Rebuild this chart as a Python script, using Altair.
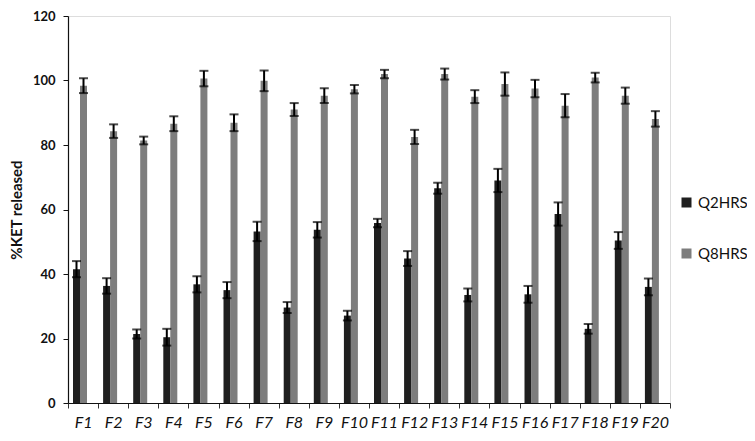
import altair as alt
import pandas as pd

formulations = ["F1", "F2", "F3", "F4", "F5", "F6", "F7", "F8", "F9", "F10",
                "F11", "F12", "F13", "F14", "F15", "F16", "F17", "F18", "F19", "F20"]
series = ["Q2HRS", "Q8HRS"]
q2 = [41.5, 36.3, 21.4, 20.4, 36.8, 35.0, 53.2, 29.6, 53.7, 27.1,
      55.8, 44.8, 66.6, 33.5, 69.0, 33.7, 58.6, 23.0, 50.4, 36.0]
q2_err = [2.5, 2.4, 1.4, 2.6, 2.5, 2.5, 3.0, 1.7, 2.4, 1.5,
          1.3, 2.3, 1.7, 2.0, 3.6, 2.6, 3.6, 1.5, 2.6, 2.6]
q8 = [98.4, 84.3, 81.4, 86.6, 100.6, 86.9, 99.9, 91.0, 95.3, 97.3,
      102.0, 82.5, 102.0, 95.0, 98.9, 97.5, 92.2, 100.9, 95.3, 88.1]
q8_err = [2.3, 2.1, 1.2, 2.3, 2.4, 2.6, 3.2, 2.0, 2.3, 1.3,
          1.3, 2.2, 1.7, 2.0, 3.6, 2.7, 3.6, 1.5, 2.5, 2.4]
y_ticks = [0, 20, 40, 60, 80, 100, 120]

rows = []
for i, f in enumerate(formulations):
    rows.append({"F": f, "S": series[0], "v": q2[i], "e": q2_err[i]})
    rows.append({"F": f, "S": series[1], "v": q8[i], "e": q8_err[i]})
df = pd.DataFrame(rows)

x_enc = alt.X(
    "F:N", sort=formulations,
    scale=alt.Scale(paddingInner=0, paddingOuter=0),
    axis=alt.Axis(
        title=None, labelAngle=0, labelFont="Lato", labelFontStyle="italic",
        labelFontSize=16, labelColor="#111", labelPadding=6, labelOverlap=False,
        labelBound=False, tickBand="extent", tickSize=5, tickColor="#333",
        domainColor="#111", domainWidth=1.2,
    ),
)
xo_enc = alt.XOffset("S:N", sort=series, scale=alt.Scale(domain=series, range=[5, 19]))
y_scale = alt.Scale(domain=[0, 120], nice=False)

base = alt.Chart(df)

bars = base.mark_bar().encode(
    x=x_enc,
    xOffset=xo_enc,
    y=alt.Y(
        "v:Q", scale=y_scale,
        axis=alt.Axis(
            title="%KET released", values=y_ticks, grid=False,
            labelFont="Lato", labelFontWeight="bold", labelFontSize=13,
            labelColor="#111", labelPadding=8, tickSize=5, tickColor="#111",
            domainColor="#111", domainWidth=1.2,
            titleFont="Lato", titleFontWeight="bold", titleFontSize=15,
            titleColor="#111", titlePadding=8,
        ),
    ),
    color=alt.Color(
        "S:N", sort=series,
        scale=alt.Scale(domain=series, range=["#1f1f1f", "#7d7d7d"]),
        legend=alt.Legend(
            title=None, orient="none", legendX=611, legendY=179,
            symbolType="square", symbolSize=100, symbolStrokeWidth=0,
            labelFont="Lato", labelFontSize=15, labelColor="#111",
            labelOffset=4, rowPadding=35, padding=0,
        ),
    ),
)

err_base = base.transform_calculate(lo="datum.v - datum.e", hi="datum.v + datum.e")

rules = err_base.mark_rule(color="#000", strokeWidth=2).encode(
    x=alt.X("F:N", sort=formulations), xOffset=xo_enc,
    y=alt.Y("lo:Q", scale=y_scale), y2="hi:Q",
)
caps_hi = err_base.mark_tick(color="#000", thickness=2, size=9).encode(
    x=alt.X("F:N", sort=formulations), xOffset=xo_enc,
    y=alt.Y("hi:Q", scale=y_scale),
)
caps_lo = err_base.mark_tick(color="#000", thickness=2, size=9).encode(
    x=alt.X("F:N", sort=formulations), xOffset=xo_enc,
    y=alt.Y("lo:Q", scale=y_scale),
)

chart = alt.layer(bars, rules, caps_hi, caps_lo).properties(
    width=602, height=387,
    autosize=alt.AutoSizeParams(type="none"),
    padding={"left": 60, "top": 8, "right": 77, "bottom": 30},
).configure_view(stroke=None).configure(background="white")

chart.save("out.html", embed_options={"renderer": "svg", "actions": False})
